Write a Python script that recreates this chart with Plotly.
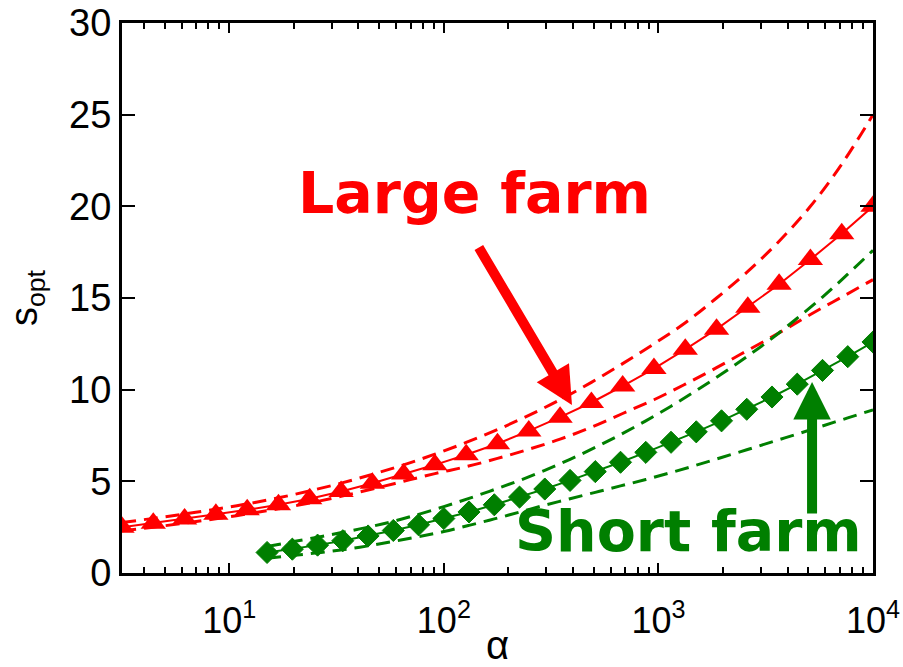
import plotly.graph_objects as go

# Large farm: dimensionless parameter alpha and optimal spacing s_opt
alpha_large = [3.162, 4.424, 6.190, 8.660, 12.12, 16.95, 23.71, 33.18, 46.42, 64.94,
               90.85, 127.1, 177.8, 248.8, 348.1, 487.0, 681.3, 953.2, 1334, 1866,
               2610, 3652, 5109, 7149, 10000]
s_large = [2.5, 2.72, 2.95, 3.2, 3.45, 3.72, 4.05, 4.45, 4.9, 5.4,
           5.9, 6.45, 7.05, 7.75, 8.5, 9.3, 10.2, 11.15, 12.2, 13.3,
           14.5, 15.75, 17.1, 18.5, 20.0]
s_large_upper = [2.75, 2.98, 3.22, 3.48, 3.77, 4.1, 4.48, 4.9, 5.38, 5.9,
                 6.48, 7.12, 7.82, 8.6, 9.45, 10.4, 11.42, 12.5, 13.65, 15.0,
                 16.45, 18.1, 20.0, 22.3, 25.0]
s_large_lower = [2.3, 2.5, 2.72, 2.96, 3.22, 3.5, 3.82, 4.18, 4.58, 5.0,
                 5.42, 5.8, 6.25, 6.75, 7.3, 7.95, 8.7, 9.45, 10.3, 11.2,
                 12.15, 13.1, 14.1, 15.05, 16.0]

# Short farm
alpha_short = [15.0, 19.67, 25.79, 33.81, 44.34, 58.14, 76.22, 99.94, 131.0, 171.8,
               225.3, 295.4, 387.3, 507.8, 665.8, 873.3, 1145, 1501, 1968, 2580,
               3383, 4436, 5817, 7627, 10000]
s_short = [1.12, 1.3, 1.52, 1.76, 2.02, 2.32, 2.63, 2.97, 3.33, 3.72,
           4.14, 4.58, 5.05, 5.53, 6.04, 6.58, 7.13, 7.7, 8.3, 8.93,
           9.6, 10.3, 11.05, 11.8, 12.6]
s_short_upper = [1.45, 1.7, 1.95, 2.22, 2.5, 2.82, 3.2, 3.62, 4.07, 4.55,
                 5.05, 5.6, 6.2, 6.85, 7.55, 8.3, 9.1, 9.95, 10.85, 11.8,
                 12.8, 13.9, 15.05, 16.3, 17.6]
s_short_lower = [0.8, 0.95, 1.1, 1.27, 1.48, 1.72, 1.98, 2.26, 2.6, 2.95,
                 3.32, 3.7, 4.05, 4.4, 4.75, 5.1, 5.48, 5.88, 6.3, 6.72,
                 7.15, 7.58, 8.02, 8.46, 8.9]

x_tickvals = [10, 100, 1000, 10000]
x_ticktext = ["10<sup>1</sup>", "10<sup>2</sup>", "10<sup>3</sup>", "10<sup>4</sup>"]
x_minor = [4, 5, 6, 7, 8, 9, 20, 30, 40, 50, 60, 70, 80, 90,
           200, 300, 400, 500, 600, 700, 800, 900,
           2000, 3000, 4000, 5000, 6000, 7000, 8000, 9000]

RED = "#ff0000"
GREEN = "#007f00"
DASH = "14px,8px"

fig = go.Figure()

for bound in (s_large_upper, s_large_lower):
    fig.add_trace(go.Scatter(x=alpha_large, y=bound, mode="lines",
                             line=dict(color=RED, width=3, dash=DASH, shape="spline")))
for bound in (s_short_upper, s_short_lower):
    fig.add_trace(go.Scatter(x=alpha_short, y=bound, mode="lines",
                             line=dict(color=GREEN, width=3, dash=DASH, shape="spline")))

fig.add_trace(go.Scatter(x=alpha_large, y=s_large, mode="lines+markers",
                         line=dict(color=RED, width=2),
                         marker=dict(symbol="triangle-up", size=22, color=RED)))
fig.add_trace(go.Scatter(x=alpha_short, y=s_short, mode="lines+markers",
                         line=dict(color=GREEN, width=2),
                         marker=dict(symbol="diamond", size=17, color=GREEN,
                                     line=dict(color=GREEN, width=1))))

label_font = dict(family="DejaVu Sans", size=57)
fig.add_annotation(text="<b>Large farm</b>", xref="paper", yref="paper",
                   x=0.4694, y=0.6918, xanchor="center", yanchor="middle",
                   showarrow=False, font=dict(color=RED, **label_font))
fig.add_annotation(text="<b>Short farm</b>", xref="paper", yref="paper",
                   x=0.7543, y=0.0755, xanchor="center", yanchor="middle",
                   showarrow=False, font=dict(color=GREEN, **label_font))

# pointer arrows
fig.add_annotation(x=2.597, y=9.16, xref="x", yref="y", text="",
                   showarrow=True, ax=-94, ay=-159, axref="pixel", ayref="pixel",
                   arrowhead=2, arrowsize=0.75, arrowwidth=10, arrowcolor=RED, standoff=0)
fig.add_annotation(x=3.716, y=10.42, xref="x", yref="y", text="",
                   showarrow=True, ax=0, ay=133, axref="pixel", ayref="pixel",
                   arrowhead=2, arrowsize=0.75, arrowwidth=10, arrowcolor=GREEN, standoff=0)

axis_common = dict(showline=True, linewidth=3, linecolor="black", mirror="allticks",
                   ticks="inside", tickcolor="black", showgrid=False, zeroline=False)

fig.update_xaxes(type="log", range=[0.5, 4], tickmode="array",
                 tickvals=x_tickvals, ticktext=x_ticktext,
                 ticklen=10, tickwidth=2,
                 minor=dict(tickmode="array", tickvals=x_minor, ticks="inside",
                            ticklen=6, tickwidth=2, tickcolor="black", showgrid=False),
                 tickfont=dict(family="Liberation Sans, Arial", size=36, color="black"),
                 ticklabelstandoff=14,
                 title=dict(text="α", font=dict(family="Liberation Sans, Arial", size=40,
                                                color="black"), standoff=6),
                 **axis_common)
fig.update_yaxes(range=[0, 30], dtick=5, tick0=0, ticklen=13, tickwidth=2,
                 tickfont=dict(family="Liberation Sans, Arial", size=38, color="black"),
                 title=dict(text="s<sub>opt</sub>",
                            font=dict(family="Liberation Sans, Arial", size=38, color="black"),
                            standoff=20),
                 **axis_common)

fig.update_layout(width=903, height=667, showlegend=False,
                  margin=dict(l=122, r=30, t=23, b=94, autoexpand=False),
                  paper_bgcolor="white", plot_bgcolor="white")

fig.write_html("out.html")
